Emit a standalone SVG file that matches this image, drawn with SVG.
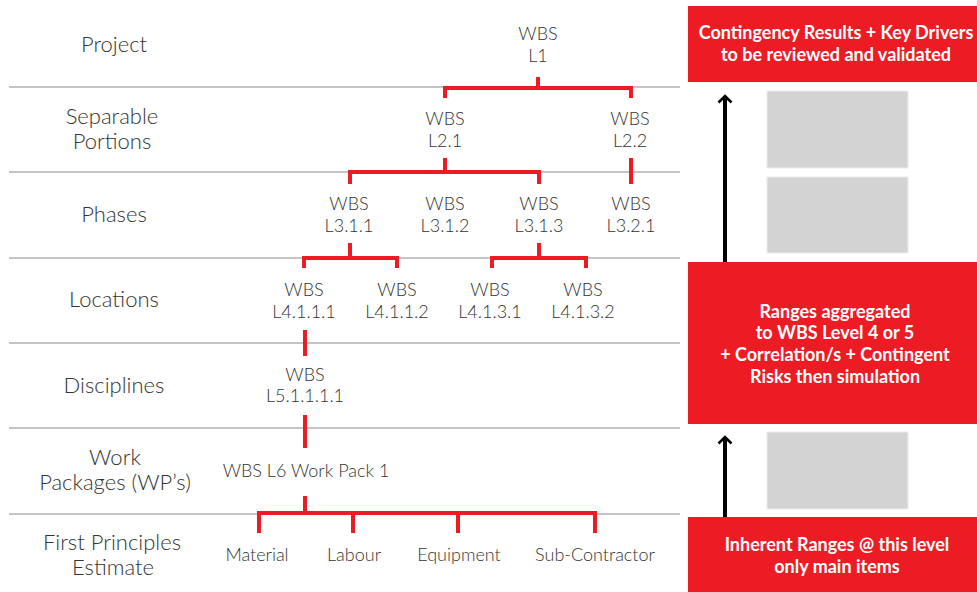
<svg xmlns="http://www.w3.org/2000/svg" width="977" height="592" viewBox="0 0 977 592">
<style>
.bg{fill:#ffffff}
.sep{stroke:#b0b0b0;stroke-width:1.5;fill:none}
.lbl{font-family:Lato,"Liberation Sans",sans-serif;font-weight:300;font-size:22px;fill:#333333;text-anchor:middle}
.node{font-family:Lato,"Liberation Sans",sans-serif;font-weight:300;font-size:18px;fill:#333333;text-anchor:middle}
.conn{stroke:#ED1C24;stroke-width:4;fill:none;stroke-linecap:butt}
.red{fill:#ED1C24}
.wt{font-family:Lato,"Liberation Sans",sans-serif;font-weight:700;font-size:18px;fill:#ffffff;text-anchor:middle}
.ph{fill:#d3d3d3;stroke:#ececec;stroke-width:1}
.arr{stroke:#000;stroke-width:4;fill:none}
</style>
<defs>
<marker id="ah" viewBox="0 0 10 16" refX="8" refY="8" markerWidth="10" markerHeight="16" markerUnits="userSpaceOnUse" orient="auto">
<path d="M1.5,1.5 L8,8 L1.5,14.5" fill="none" stroke="#000" stroke-width="2.6"/>
</marker>
</defs>
<rect class="bg" x="0" y="0" width="977" height="592"/>
<g id="separators">
<line class="sep" x1="9" y1="87" x2="680" y2="87"/>
<line class="sep" x1="9" y1="172" x2="680" y2="172"/>
<line class="sep" x1="9" y1="258" x2="680" y2="258"/>
<line class="sep" x1="9" y1="343" x2="680" y2="343"/>
<line class="sep" x1="9" y1="428" x2="680" y2="428"/>
<line class="sep" x1="9" y1="514" x2="680" y2="514"/>
</g>
<g id="row-labels">
<text class="lbl" x="114" y="52">Project</text>
<text class="lbl" x="112" y="124">Separable</text>
<text class="lbl" x="112" y="149">Portions</text>
<text class="lbl" x="114" y="222">Phases</text>
<text class="lbl" x="114" y="307">Locations</text>
<text class="lbl" x="114" y="393">Disciplines</text>
<text class="lbl" x="115" y="465">Work</text>
<text class="lbl" x="115" y="490">Packages (WP’s)</text>
<text class="lbl" x="112" y="550">First Principles</text>
<text class="lbl" x="113" y="575">Estimate</text>
</g>
<g id="connectors">
<path class="conn" d="M538,77 V88 M445,98 V88 H631 V98"/>
<path class="conn" d="M445,158 V172 M350,184 V172 H539 V184 M631,158 V184"/>
<path class="conn" d="M350,243 V258 M304,268 V258 H397 V268"/>
<path class="conn" d="M539,243 V258 M492,268 V258 H586 V268"/>
<path class="conn" d="M305,330 V356"/>
<path class="conn" d="M305,415 V448"/>
<path class="conn" d="M305,496 V513 M259,533 V513 H595 V533 M353,513 V533 M458,513 V533"/>
</g>
<g id="n-l1"><text class="node" x="538" y="40">WBS</text><text class="node" x="538" y="62">L1</text></g>
<g id="n-l21"><text class="node" x="445" y="125">WBS</text><text class="node" x="445" y="147">L2.1</text></g>
<g id="n-l22"><text class="node" x="630" y="125">WBS</text><text class="node" x="630" y="147">L2.2</text></g>
<g id="n-l311"><text class="node" x="349" y="210">WBS</text><text class="node" x="349" y="232">L3.1.1</text></g>
<g id="n-l312"><text class="node" x="445" y="210">WBS</text><text class="node" x="445" y="232">L3.1.2</text></g>
<g id="n-l313"><text class="node" x="539" y="210">WBS</text><text class="node" x="539" y="232">L3.1.3</text></g>
<g id="n-l321"><text class="node" x="631" y="210">WBS</text><text class="node" x="631" y="232">L3.2.1</text></g>
<g id="n-l4111"><text class="node" x="304" y="296">WBS</text><text class="node" x="304" y="318">L4.1.1.1</text></g>
<g id="n-l4112"><text class="node" x="397" y="296">WBS</text><text class="node" x="397" y="318">L4.1.1.2</text></g>
<g id="n-l4131"><text class="node" x="490" y="296">WBS</text><text class="node" x="490" y="318">L4.1.3.1</text></g>
<g id="n-l4132"><text class="node" x="583" y="296">WBS</text><text class="node" x="583" y="318">L4.1.3.2</text></g>
<g id="n-l51111"><text class="node" x="305" y="381">WBS</text><text class="node" x="305" y="402">L5.1.1.1.1</text></g>
<g id="n-l6"><text class="node" x="306" y="477">WBS L6 Work Pack 1</text></g>
<g id="n-material"><text class="node" x="257" y="561">Material</text></g>
<g id="n-labour"><text class="node" x="354" y="561">Labour</text></g>
<g id="n-equipment"><text class="node" x="459" y="561">Equipment</text></g>
<g id="n-sub"><text class="node" x="595" y="561">Sub-Contractor</text></g>
<g id="box-top">
<rect class="red" x="688" y="6" width="289" height="76"/>
<text class="wt" x="836" y="39">Contingency Results + Key Drivers</text>
<text class="wt" x="836" y="61">to be reviewed and validated</text>
</g>
<g id="box-mid">
<rect class="red" x="688" y="262" width="289" height="162"/>
<text class="wt" x="835" y="318">Ranges aggregated</text>
<text class="wt" x="835" y="339">to WBS Level 4 or 5</text>
<text class="wt" x="835" y="361">+ Correlation/s + Contingent</text>
<text class="wt" x="835" y="383">Risks then simulation</text>
</g>
<g id="box-bottom">
<rect class="red" x="688" y="517" width="289" height="75"/>
<text class="wt" x="837" y="551">Inherent Ranges @ this level</text>
<text class="wt" x="837" y="573">only main items</text>
</g>
<g id="placeholders">
<rect class="ph" x="767" y="91" width="141" height="77"/>
<rect class="ph" x="767" y="177" width="141" height="76"/>
<rect class="ph" x="767" y="432" width="141" height="77"/>
</g>
<g id="arrows">
<line class="arr" x1="725" y1="262" x2="725" y2="96" marker-end="url(#ah)"/>
<line class="arr" x1="725" y1="517" x2="725" y2="437" marker-end="url(#ah)"/>
</g>
</svg>
